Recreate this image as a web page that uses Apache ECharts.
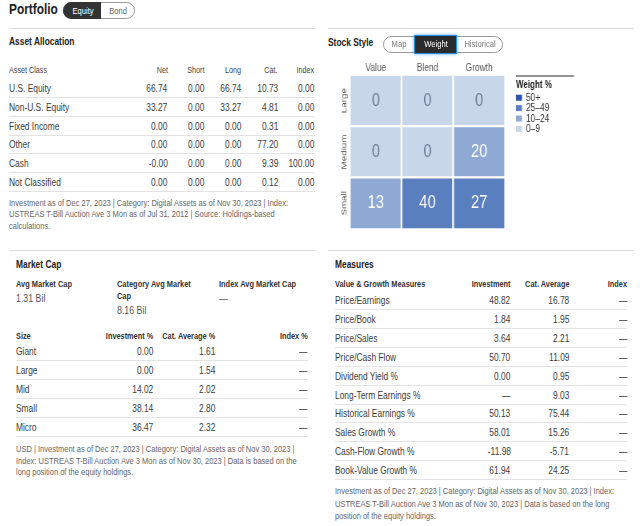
<!DOCTYPE html>
<html><head><meta charset="utf-8">
<script src="https://cdn.jsdelivr.net/npm/echarts@6/dist/echarts.min.js"></script>
<style>
html,body{margin:0;padding:0}
body{width:640px;height:526px;background:#fff;position:relative;overflow:hidden;font-family:"Liberation Sans",Arial,sans-serif;color:#333}
.t{position:absolute;white-space:nowrap;line-height:14px;height:14px}
.hr{position:absolute;height:1px;background:#dcdcdc}
#style{position:absolute;left:320px;top:55px;width:400px;height:190px;transform:scaleX(0.8);transform-origin:0 0}
</style></head><body>
<div id="style"></div>
<script>
// ---------- data ----------
const allocHeaders = ['Asset Class','Net','Short','Long','Cat.','Index'];
const allocClasses = ['U.S. Equity','Non-U.S. Equity','Fixed Income','Other','Cash','Not Classified'];
const allocNet   = ['66.74','33.27','0.00','0.00','-0.00','0.00'];
const allocShort = ['0.00','0.00','0.00','0.00','0.00','0.00'];
const allocLong  = ['66.74','33.27','0.00','0.00','0.00','0.00'];
const allocCat   = ['10.73','4.81','0.31','77.20','9.39','0.12'];
const allocIndex = ['0.00','0.00','0.00','0.00','100.00','0.00'];
const allocNote = ['Investment as of Dec 27, 2023 | Category: Digital Assets as of Nov 30, 2023 | Index:',
                   'USTREAS T-Bill Auction Ave 3 Mon as of Jul 31, 2012 | Source: Holdings-based',
                   'calculations.'];

const styleCols = ['Value','Blend','Growth'];
const styleRows = ['Large','Medium','Small'];
const styleWeights = [[0,0,0],[0,0,20],[13,40,27]];
const weightBands = ['50+','25–49','10–24','0–9'];
const weightBandMin = [50,25,10,0];

const capSummaryLabels = ['Avg Market Cap','Category Avg Market\nCap','Index Avg Market Cap'];
const capSummaryValues = ['1.31 Bil','8.16 Bil','—'];
const capHeaders = ['Size','Investment %','Cat. Average %','Index %'];
const capSizes = ['Giant','Large','Mid','Small','Micro'];
const capInvestment = ['0.00','0.00','14.02','38.14','36.47'];
const capCategory = ['1.61','1.54','2.02','2.80','2.32'];
const capIndex = ['—','—','—','—','—'];
const capNote = ['USD | Investment as of Dec 27, 2023 | Category: Digital Assets as of Nov 30, 2023 |',
                 'Index: USTREAS T-Bill Auction Ave 3 Mon as of Nov 30, 2023 | Data is based on the',
                 'long position of the equity holdings.'];

const measHeaders = ['Value & Growth Measures','Investment','Cat. Average','Index'];
const measNames = ['Price/Earnings','Price/Book','Price/Sales','Price/Cash Flow','Dividend Yield %',
                   'Long-Term Earnings %','Historical Earnings %','Sales Growth %','Cash-Flow Growth %','Book-Value Growth %'];
const measInvestment = ['48.82','1.84','3.64','50.70','0.00','—','50.13','58.01','-11.98','61.94'];
const measCategory = ['16.78','1.95','2.21','11.09','0.95','9.03','75.44','15.26','-5.71','24.25'];
const measIndex = ['—','—','—','—','—','—','—','—','—','—'];
const measNote = ['Investment as of Dec 27, 2023 | Category: Digital Assets as of Nov 30, 2023 | Index:',
                  'USTREAS T-Bill Auction Ave 3 Mon as of Nov 30, 2023 | Data is based on the long',
                  'position of the equity holdings.'];

// ---------- html helpers ----------
const SX = 0.8; // horizontal condensing (reference uses a condensed face)
function txt(s, x, cy, o) {
  o = o || {};
  const d = document.createElement('div');
  d.className = 't';
  d.textContent = s;
  const lh = o.lh || 14;
  d.style.lineHeight = lh + 'px'; d.style.height = lh + 'px';
  d.style.top = (cy - lh / 2) + 'px';
  const sc = o.sx || SX;
  if (o.center) {
    d.style.left = x + 'px';
    d.style.transform = 'translateX(-50%) scaleX(' + sc + ')';
    d.style.transformOrigin = 'center center';
  } else if (o.right) {
    d.style.right = (640 - x) + 'px';
    d.style.transform = 'scaleX(' + sc + ')';
    d.style.transformOrigin = 'right center';
  } else {
    d.style.left = x + 'px';
    d.style.transform = 'scaleX(' + sc + ')';
    d.style.transformOrigin = 'left center';
  }
  d.style.fontSize = (o.size || 10.5) + 'px';
  if (o.bold) d.style.fontWeight = 'bold';
  d.style.color = o.color || '#3c3c3c';
  document.body.appendChild(d);
  return d;
}
function hr(x1, x2, y, color) {
  const d = document.createElement('div');
  d.className = 'hr';
  d.style.left = x1 + 'px'; d.style.width = (x2 - x1) + 'px'; d.style.top = y + 'px';
  if (color) d.style.background = color;
  document.body.appendChild(d);
}
function box(x, y, w, h, css) {
  const d = document.createElement('div');
  d.style.position = 'absolute';
  d.style.left = x + 'px'; d.style.top = y + 'px';
  d.style.width = w + 'px'; d.style.height = h + 'px';
  d.style.boxSizing = 'border-box';
  Object.assign(d.style, css);
  document.body.appendChild(d);
  return d;
}

// ---------- top-left: title + asset allocation ----------
txt('Portfolio', 9, 9, {size: 14.5, bold: true, color: '#1e1e1e', lh: 18, sx: 0.82});
box(63, 2, 72, 17, {border: '1px solid #9a9a9a', borderRadius: '9px'});
box(63, 2, 38, 17, {background: '#333', borderRadius: '9px 0 0 9px'});
txt('Equity', 82.5, 10.5, {size: 9.5, color: '#fff', center: true});
txt('Bond', 118, 10.5, {size: 9.5, color: '#666', center: true});
hr(9, 315, 28);
hr(328, 634, 28);

txt('Asset Allocation', 9, 40.5, {size: 10.5, bold: true, color: '#222'});
const allocColsRight = [167.7, 204.5, 241.5, 278, 314.5];
txt(allocHeaders[0], 9, 70, {size: 9, color: '#444'});
allocHeaders.slice(1).forEach((h, i) => txt(h, allocColsRight[i], 70, {size: 9, color: '#444', right: true}));
const allocCols = [allocNet, allocShort, allocLong, allocCat, allocIndex];
allocClasses.forEach((c, r) => {
  const cy = 87.7 + r * 18.9;
  txt(c, 9, cy);
  allocCols.forEach((col, i) => txt(col[r], allocColsRight[i], cy, {right: true}));
  hr(9, 315, Math.round(cy + 9), '#e3e3e3');
});
allocNote.forEach((s, i) => txt(s, 9, 202.7 + i * 11.2, {size: 9.4, color: '#666', lh: 11}));

// ---------- top-right: stock style ----------
txt('Stock Style', 328, 42, {size: 10.5, bold: true, color: '#222'});
box(383, 36, 120, 17, {border: '1px solid #9a9a9a', borderRadius: '9px'});
box(414, 35, 43, 19, {background: '#2b2b2b', border: '1.5px solid #2a8fe0', boxShadow: '0 0 3px #4aa3ef'});
txt('Map', 398.5, 44, {size: 9.5, color: '#777', center: true});
txt('Weight', 435.5, 44, {size: 9.5, color: '#fff', center: true});
txt('Historical', 479.5, 44, {size: 9.5, color: '#777', center: true});

const bandColors = ['#2c56a5', '#5a7fbf', '#8eaad4', '#c8d6ea'];
const heatData = [];
styleRows.forEach((rn, r) => styleCols.forEach((cn, c) => {
  const v = styleWeights[r][c];
  heatData.push({value: [c, r, v], label: {color: v < 10 ? '#6d7c92' : '#ffffff'}});
}));

// chart canvas is condensed horizontally by 0.8 (CSS), so x coordinates are given / 0.8
const K = 1 / 0.8;
const chart = echarts.init(document.getElementById('style'), null, {renderer: 'canvas', width: 400, height: 190});
const FONT = '"Liberation Sans",Arial,sans-serif';
chart.setOption({
  animation: false,
  textStyle: {fontFamily: FONT},
  grid: {left: 30 * K, top: 20, width: 155 * K, height: 154},
  xAxis: {type: 'category', data: styleCols, position: 'top',
    axisLine: {show: false}, axisTick: {show: false}, splitLine: {show: false},
    axisLabel: {fontSize: 10.5, color: '#555', margin: 1, fontFamily: FONT}},
  yAxis: {type: 'category', data: styleRows, inverse: true,
    axisLine: {show: false}, axisTick: {show: false}, splitLine: {show: false},
    axisLabel: {rotate: 90, fontSize: 9.8, color: '#555', margin: 2, fontFamily: FONT}},
  visualMap: {type: 'piecewise', show: false, dimension: 2,
    pieces: weightBandMin.map((m, i) => i === 0 ? {min: m, color: bandColors[i]}
                                                 : {min: m, max: weightBandMin[i - 1] - 0.001, color: bandColors[i]})},
  series: [{type: 'heatmap', data: heatData,
    itemStyle: {borderColor: '#fff', borderWidth: 2.2},
    label: {show: true, fontSize: 18.5, fontFamily: FONT, formatter: p => String(p.value[2])},
    emphasis: {disabled: true}}],
  graphic: [
    {type: 'line', shape: {x1: 196 * K, y1: 21, x2: 254 * K, y2: 21}, style: {stroke: '#707070', lineWidth: 1.5}},
    {type: 'text', x: 196 * K, y: 30, style: {text: 'Weight %', font: 'bold 10px ' + FONT, fill: '#222', textVerticalAlign: 'middle'}}
  ].concat(weightBands.flatMap((b, i) => [
    {type: 'rect', shape: {x: 196 * K, y: 39.7 + i * 10.4, width: 6 * K, height: 6}, style: {fill: bandColors[i]}},
    {type: 'text', x: 206 * K, y: 42.9 + i * 10.4, style: {text: b, font: '10.5px ' + FONT, fill: '#333', textVerticalAlign: 'middle'}}
  ]))
});

// ---------- bottom-left: market cap ----------
hr(9, 315, 250);
txt('Market Cap', 16, 264.3, {size: 10.5, bold: true, color: '#222'});
const capSumX = [16, 117, 219];
capSummaryLabels.forEach((l, i) => {
  l.split('\n').forEach((part, k) => txt(part, capSumX[i], 283.7 + k * 12, {size: 9.3, bold: true, color: '#333'}));
});
txt(capSummaryValues[0], 16, 298, {size: 11, color: '#555'});
txt(capSummaryValues[1], 117, 310, {size: 11, color: '#555'});
txt(capSummaryValues[2], 219, 298, {size: 11, color: '#555'});
const capRight = [153.3, 215.7, 307.7];
txt(capHeaders[0], 16, 335.7, {size: 9.2, bold: true, color: '#333'});
capHeaders.slice(1).forEach((h, i) => txt(h, capRight[i], 335.7, {size: 9.2, bold: true, color: '#333', right: true}));
const capCols = [capInvestment, capCategory, capIndex];
capSizes.forEach((s, r) => {
  const cy = 351 + r * 19;
  txt(s, 16, cy);
  capCols.forEach((col, i) => txt(col[r], capRight[i], cy, {right: true}));
  hr(16, 308, Math.round(cy + 9), '#e3e3e3');
});
capNote.forEach((s, i) => txt(s, 16, 448.7 + i * 11.5, {size: 9.4, color: '#666', lh: 11}));

// ---------- bottom-right: measures ----------
hr(328, 634, 250);
txt('Measures', 335, 264.3, {size: 10.5, bold: true, color: '#222'});
const measRight = [510.7, 569, 627.3];
txt(measHeaders[0], 335, 283.7, {size: 9.2, bold: true, color: '#333'});
measHeaders.slice(1).forEach((h, i) => txt(h, measRight[i], 283.7, {size: 9.2, bold: true, color: '#333', right: true}));
const measCols = [measInvestment, measCategory, measIndex];
measNames.forEach((n, r) => {
  const cy = 300 + r * 18.9;
  txt(n, 335, cy);
  measCols.forEach((col, i) => txt(col[r], measRight[i], cy, {right: true}));
  hr(335, 627, Math.round(cy + 9), '#e3e3e3');
});
measNote.forEach((s, i) => txt(s, 335, 490.7 + i * 12.5, {size: 9.4, color: '#666', lh: 11}));
</script>
</body></html>
